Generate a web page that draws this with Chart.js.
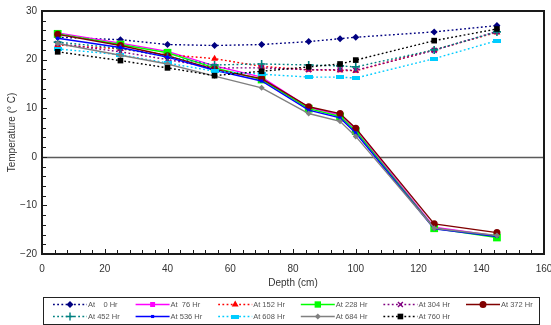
<!DOCTYPE html>
<html>
<head>
<meta charset="utf-8">
<script src="https://cdn.jsdelivr.net/npm/chart.js@4/dist/chart.umd.min.js"></script>
<style>
  html, body { margin: 0; padding: 0; background: #fff; }
  #wrap { width: 551px; height: 325px; position: relative; }
</style>
</head>
<body>
<div id="wrap"><canvas id="c" width="551" height="325"></canvas></div>
<script>
// Soil depth (cm) at which temperature was logged
const depths = [5, 25, 40, 55, 70, 85, 95, 100, 125, 145];

// Temperature profiles (°C) at successive elapsed times
const hr0   = [24.6, 24.1, 23.1, 22.9, 23.1, 23.7, 24.3, 24.6, 25.7, 27.0];
const hr76  = [25.5, 23.4, 21.7, 18.7, 16.4, 10.2, 8.6, 5.7, -14.5, -16.3];
const hr152 = [23.0, 22.2, 21.0, 20.2, 18.6, 17.9, 17.8, 17.7, 22.0, 25.6];
const hr228 = [25.3, 23.1, 21.4, 18.3, 15.9, 9.9, 8.3, 5.3, -14.7, -16.6];
const hr304 = [23.3, 21.6, 20.0, 18.3, 18.3, 17.9, 17.9, 17.8, 21.9, 25.8];
const hr372 = [25.2, 22.9, 20.8, 18.0, 16.1, 10.3, 8.9, 5.9, -13.8, -15.6];
const hr452 = [23.6, 22.3, 20.6, 18.9, 19.1, 18.9, 18.7, 18.5, 22.0, 25.7];
const hr536 = [24.4, 22.5, 20.5, 17.8, 15.6, 9.6, 8.0, 4.9, -14.8, -16.4];
const hr608 = [22.2, 21.0, 19.3, 17.6, 17.0, 16.4, 16.4, 16.2, 20.2, 23.9];
const hr684 = [23.3, 20.9, 19.1, 16.6, 14.2, 8.9, 7.3, 4.2, -14.7, -16.2];
const hr760 = [21.6, 19.8, 18.3, 16.7, 17.6, 18.5, 19.1, 19.9, 23.9, 26.3];

const seriesLabels = ['At    0 Hr', 'At  76 Hr', 'At 152 Hr', 'At 228 Hr', 'At 304 Hr', 'At 372 Hr',
                      'At 452 Hr', 'At 536 Hr', 'At 608 Hr', 'At 684 Hr', 'At 760 Hr'];

// Axis tick labels
const xTickLabels = [0, 20, 40, 60, 80, 100, 120, 140, 160];
const yTickLabels = [-20, -10, 0, 10, 20, 30];

// Flat bar marker for the 608 Hr series
const barMarker = document.createElement('canvas');
barMarker.width = 8; barMarker.height = 4;
(function () {
  const g = barMarker.getContext('2d');
  g.fillStyle = '#00CCFF';
  g.fillRect(0, 0, 8, 4);
})();

const DOT = [1.8, 2.4];
const styles = [
  { color: '#000080', dash: DOT, point: 'rectRot', r: 3.5, fill: '#000080' },
  { color: '#FF00FF', dash: [],  point: 'rect',    r: 3.5, fill: '#FF00FF' },
  { color: '#FF0000', dash: DOT, point: 'triangle',r: 4,   fill: '#FF0000' },
  { color: '#00FF00', dash: [],  point: 'rect',    r: 5.5, fill: '#00FF00' },
  { color: '#800080', dash: DOT, point: 'crossRot',r: 3.5, fill: '#800080' },
  { color: '#800000', dash: [],  point: 'circle',  r: 3.5, fill: '#800000' },
  { color: '#008080', dash: DOT, point: 'cross',   r: 4,   fill: '#008080' },
  { color: '#0000FF', dash: [],  point: 'rect',    r: 2.2, fill: '#0000FF' },
  { color: '#00CCFF', dash: DOT, point: barMarker, r: 4,   fill: '#00CCFF' },
  { color: '#808080', dash: [],  point: 'rectRot', r: 3,   fill: '#808080' },
  { color: '#000000', dash: DOT, point: 'rect',    r: 4,   fill: '#000000' }
];
const seriesValues = [hr0, hr76, hr152, hr228, hr304, hr372, hr452, hr536, hr608, hr684, hr760];

const datasets = seriesValues.map((vals, i) => {
  const s = styles[i];
  return {
    label: seriesLabels[i],
    data: depths.map((d, k) => ({ x: d, y: vals[k] })),
    borderColor: s.color,
    backgroundColor: s.fill,
    borderWidth: 1.4,
    borderDash: s.dash,
    pointStyle: s.point,
    pointRadius: s.r,
    pointHoverRadius: s.r,
    pointBackgroundColor: s.fill,
    pointBorderColor: s.color,
    pointBorderWidth: (s.point === 'cross' || s.point === 'crossRot') ? 1.6 : 0,
    tension: 0,
    fill: false,
    order: seriesValues.length - i
  };
});

// Plot frame, inward tick marks, zero line and the two-row legend
const decorations = {
  id: 'decorations',
  beforeDatasetsDraw(chart) {
    const { ctx, chartArea: a, scales: { y } } = chart;
    const y0 = Math.round(y.getPixelForValue(0)) + 0.5;
    ctx.save();
    ctx.strokeStyle = '#5a5a5a';
    ctx.lineWidth = 1.5;
    ctx.beginPath();
    ctx.moveTo(a.left, y0); ctx.lineTo(a.right, y0);
    ctx.stroke();
    ctx.restore();
  },
  afterDraw(chart) {
    const { ctx, chartArea: a, scales: { x, y } } = chart;
    ctx.save();
    // frame
    ctx.strokeStyle = '#1a1a1a';
    ctx.lineWidth = 2;
    ctx.strokeRect(a.left, a.top, a.right - a.left, a.bottom - a.top);
    // ticks
    ctx.lineWidth = 1;
    ctx.beginPath();
    for (let v = 0; v <= 160; v += 4) {
      const px = Math.round(x.getPixelForValue(v)) + 0.5;
      const len = v % 20 === 0 ? 5 : 4;
      ctx.moveTo(px, a.bottom); ctx.lineTo(px, a.bottom - len);
    }
    for (let v = -20; v <= 30; v += 2) {
      const py = Math.round(y.getPixelForValue(v)) + 0.5;
      const len = v % 10 === 0 ? 5 : 4;
      ctx.moveTo(a.left, py); ctx.lineTo(a.left + len, py);
    }
    ctx.stroke();

    // legend
    const boxL = 43, boxT = 297, boxW = 496, boxH = 27;
    ctx.strokeStyle = '#222';
    ctx.lineWidth = 1;
    ctx.strokeRect(boxL + 0.5, boxT + 0.5, boxW, boxH);
    const colStart = 53, colStep = 82.6, lineLen = 34;
    const rows = [304.5, 316.5];
    ctx.font = '7.5px "Liberation Sans", Arial, sans-serif';
    ctx.textBaseline = 'middle';
    ctx.textAlign = 'left';
    const helpers = Chart.helpers;
    seriesLabels.forEach((lab, i) => {
      const s = styles[i];
      const col = i % 6, row = Math.floor(i / 6);
      const lx = colStart + col * colStep;
      const ly = rows[row];
      ctx.save();
      ctx.strokeStyle = s.color;
      ctx.lineWidth = 1.4;
      ctx.setLineDash(s.dash);
      ctx.beginPath();
      ctx.moveTo(lx, ly); ctx.lineTo(lx + lineLen, ly);
      ctx.stroke();
      ctx.setLineDash([]);
      ctx.fillStyle = s.fill;
      ctx.strokeStyle = s.color;
      const isCross = s.point === 'cross' || s.point === 'crossRot';
      const lr = s.point === 'rect' && i === 3 ? 4.5 : s.r;
      helpers.drawPoint(ctx, { pointStyle: s.point, rotation: 0, radius: lr, borderWidth: isCross ? 1.6 : 0 },
        lx + lineLen / 2, ly);
      ctx.restore();
      ctx.fillStyle = '#555';
      ctx.fillText(lab, lx + lineLen + 1, ly + 0.5);
    });
    ctx.restore();
  }
};

new Chart(document.getElementById('c'), {
  type: 'line',
  data: { datasets },
  options: {
    responsive: false,
    animation: false,
    events: [],
    layout: { padding: { left: 0, right: 7, top: 11, bottom: 36 } },
    plugins: { legend: { display: false }, tooltip: { enabled: false } },
    scales: {
      x: {
        type: 'linear',
        min: xTickLabels[0],
        max: xTickLabels[xTickLabels.length - 1],
        afterBuildTicks(scale) { scale.ticks = xTickLabels.map(v => ({ value: v })); },
        afterFit(scale) {
          scale.height = 289 - 254;
          scale.paddingLeft = 0;
          scale.paddingRight = 0;
        },
        grid: { display: false, drawTicks: false },
        border: { display: false },
        ticks: {
          padding: 9,
          color: '#333',
          font: { family: '"Liberation Sans", Arial, sans-serif', size: 10 },
          maxRotation: 0
        },
        title: {
          display: true,
          text: 'Depth (cm)',
          color: '#333',
          font: { family: '"Liberation Sans", Arial, sans-serif', size: 10 },
          padding: { top: 0, bottom: 0 }
        }
      },
      y: {
        type: 'linear',
        min: yTickLabels[0],
        max: yTickLabels[yTickLabels.length - 1],
        afterBuildTicks(scale) { scale.ticks = yTickLabels.map(v => ({ value: v })); },
        afterFit(scale) { scale.width = 42; },
        grid: { display: false, drawTicks: false },
        border: { display: false },
        ticks: {
          padding: 5,
          color: '#333',
          font: { family: '"Liberation Sans", Arial, sans-serif', size: 10 },
          callback: v => (v < 0 ? '\u2212' + Math.abs(v) : String(v))
        },
        title: {
          display: true,
          text: 'Temperature (° C)',
          color: '#333',
          font: { family: '"Liberation Sans", Arial, sans-serif', size: 10 },
          padding: { top: 6, bottom: 0 }
        }
      }
    }
  },
  plugins: [decorations]
});
</script>
</body>
</html>
